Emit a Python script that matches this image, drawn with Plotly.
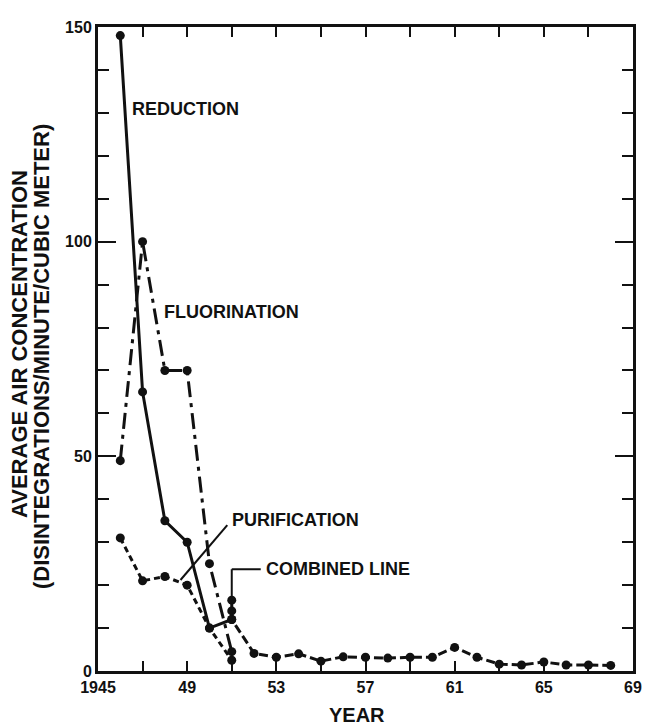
import plotly.graph_objects as go

# ---- data ----
red_years = [1946, 1947, 1948, 1949, 1950, 1951]
red_vals = [148, 65, 35, 30, 10, 12]

flu_years = [1946, 1947, 1948, 1949, 1950, 1951]
flu_vals = [49, 100, 70, 70, 25, 4.5]

pur_years = [1946, 1947, 1948, 1949, 1950, 1951]
pur_vals = [31, 21, 22, 20, 10, 2.5]

comb_years = [1951, 1951, 1951, 1952, 1953, 1954, 1955, 1956, 1957, 1958, 1959,
              1960, 1961, 1962, 1963, 1964, 1965, 1966, 1967, 1968]
comb_vals = [16.5, 14, 12, 4.1, 3.2, 4.0, 2.3, 3.3, 3.2, 3.0, 3.2,
             3.2, 5.5, 3.2, 1.6, 1.4, 2.1, 1.4, 1.4, 1.3]

x_tickvals = [1945, 1949, 1953, 1957, 1961, 1965, 1969]
x_ticktext = ["1945", "49", "53", "57", "61", "65", "69"]
y_tickvals = [0, 50, 100, 150]
y_ticktext = ["0", "50", "100", "150"]

labels = [
    ("REDUCTION", 1946.42, 131),
    ("FLUORINATION", 1947.85, 83.6),
    ("PURIFICATION", 1950.92, 35.2),
    ("COMBINED LINE", 1952.44, 23.7),
]

FONT = "Liberation Sans, Arial, sans-serif"
BLACK = "#111111"

fig = go.Figure()
mk = dict(color=BLACK, size=9, symbol="circle")

fig.add_trace(go.Scatter(x=red_years, y=red_vals, mode="lines+markers",
                         line=dict(color=BLACK, width=3), marker=mk,
                         name="Reduction", cliponaxis=False))
fig.add_trace(go.Scatter(x=flu_years, y=flu_vals, mode="lines+markers",
                         line=dict(color=BLACK, width=3, dash="16px,6px,4px,6px"),
                         marker=mk, name="Fluorination", cliponaxis=False))
fig.add_trace(go.Scatter(x=pur_years, y=pur_vals, mode="lines+markers",
                         line=dict(color=BLACK, width=3, dash="6px,4px"),
                         marker=mk, name="Purification", cliponaxis=False))
fig.add_trace(go.Scatter(x=comb_years, y=comb_vals, mode="lines+markers",
                         line=dict(color=BLACK, width=3, dash="9px,4px"),
                         marker=mk, name="Combined line", cliponaxis=False))

# leader lines
fig.add_shape(type="line", x0=1948.7, y0=21.2, x1=1950.8, y1=34,
              line=dict(color=BLACK, width=2))
fig.add_shape(type="line", x0=1951, y0=17, x1=1951, y1=23.7,
              line=dict(color=BLACK, width=2))
fig.add_shape(type="line", x0=1951, y0=23.7, x1=1952.3, y1=23.7,
              line=dict(color=BLACK, width=2))

for text, lx, ly in labels:
    fig.add_annotation(x=lx, y=ly, text=text, showarrow=False, xanchor="left",
                       yanchor="middle",
                       font=dict(family=FONT, size=18, color=BLACK, weight="bold"))

# x-axis title
fig.add_annotation(x=0.485, y=0, xref="paper", yref="paper", yshift=-44,
                   text="YEAR", showarrow=False, xanchor="center", yanchor="middle",
                   font=dict(family=FONT, size=20, color=BLACK, weight="bold"))

# y-axis title, two lines, positioned with pixel shifts from the plot's left edge
for text, xs, ys in [("AVERAGE AIR CONCENTRATION", -79, 5),
                     ("(DISINTEGRATIONS/MINUTE/CUBIC METER)", -57, -8)]:
    fig.add_annotation(x=0, y=0.5, xref="paper", yref="paper", xshift=xs,
                       yshift=ys,
                       text=text, showarrow=False, textangle=-90,
                       xanchor="center", yanchor="middle",
                       font=dict(family=FONT, size=22, color=BLACK, weight="bold"))

# page body has an 8px default margin, so the figure is sized to fit the window
fig.update_layout(
    width=645, height=717,
    margin=dict(l=90, r=16, t=11, b=54),
    plot_bgcolor="white", paper_bgcolor="white",
    showlegend=False,
    font=dict(family=FONT, color=BLACK),
)

fig.update_xaxes(range=[1945, 1969], showgrid=False, zeroline=False,
                 showline=True, linecolor=BLACK, linewidth=3, mirror="ticks",
                 ticks="inside", ticklen=10, tickwidth=2, tickcolor=BLACK,
                 tickvals=x_tickvals, ticktext=x_ticktext,
                 minor=dict(dtick=2, tick0=1945, ticks="inside", ticklen=10,
                            tickwidth=2, tickcolor=BLACK, showgrid=False),
                 tickfont=dict(family=FONT, size=16, color=BLACK, weight="bold"))
fig.update_yaxes(range=[0, 150], showgrid=False, zeroline=False,
                 showline=True, linecolor=BLACK, linewidth=3, mirror="ticks",
                 ticks="inside", ticklen=18, tickwidth=2, tickcolor=BLACK,
                 tickvals=y_tickvals, ticktext=y_ticktext,
                 minor=dict(dtick=10, ticks="inside", ticklen=11,
                            tickwidth=2, tickcolor=BLACK, showgrid=False),
                 tickfont=dict(family=FONT, size=16, color=BLACK, weight="bold"))

fig.write_html("out.html")
